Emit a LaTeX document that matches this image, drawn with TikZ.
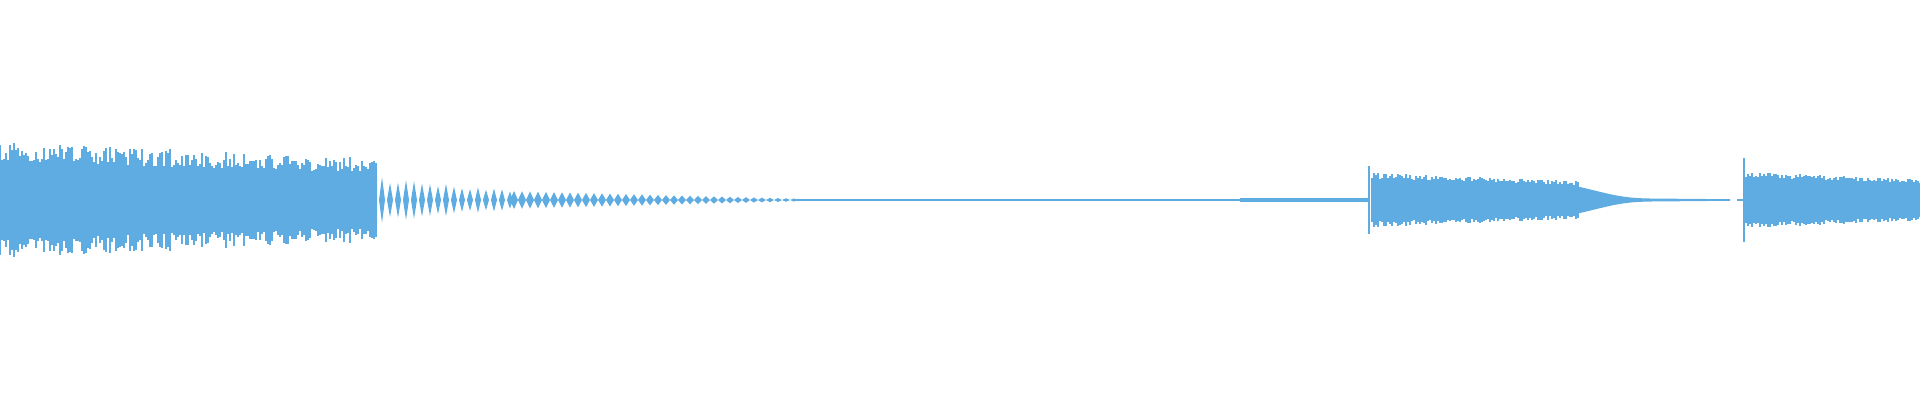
\documentclass[tikz,border=0pt]{standalone}
\definecolor{wave}{RGB}{94,172,226}
\begin{document}
\begin{tikzpicture}[
        waveline/.style={wave, line width=0.35pt},
        wavefill/.style={fill=wave, draw=none},
        ]
    \pgfmathsetseed{7}
    \useasboundingbox (0,0) rectangle (19.2,4);

    % loud opening
    \fill[wavefill] (0,2.3) -- (3.77,2.22) -- (3.77,1.78) -- (0,1.7) -- cycle;
    \foreach \x in {0,0.02,...,3.77} {
        \pgfmathsetmacro\ra{(0.58-0.16*\x/3.77)*(0.65+0.35*rnd)}
        \draw[waveline] (\x,2-\ra) -- (\x,2+\ra);
    }

    % separated bursts
    \foreach \x in {3.82,3.9,...,5.14} {
        \pgfmathsetmacro\ra{(0.23-0.13*(\x-3.82)/1.32)*(0.75+0.25*rnd)}
        \fill[wavefill] (\x-0.03,2) -- (\x,2+\ra) -- (\x+0.03,2) -- (\x,2-\ra) -- cycle;
    }

    % fading diamonds
    \foreach \x in {5.14,5.22,...,7.96} {
        \pgfmathsetmacro\ra{0.09-0.075*(\x-5.14)/2.82}
        \fill[wavefill] (\x-0.04,2) -- (\x,2+\ra) -- (\x+0.04,2) -- (\x,2-\ra) -- cycle;
    }

    % quiet stretch
    \draw[waveline] (7.96,2) -- (13.69,2);
    \draw[wave, line width=1pt] (12.4,2) -- (13.69,2);

    % second note
    \draw[waveline] (13.69,1.66) -- (13.69,2.34);
    \fill[wavefill] (13.71,2.2) -- (15.8,2.13) .. controls (16.1,2.06) and (16.2,2.02) .. (16.5,2.015)
        -- (17.3,2.008) -- (17.3,1.992) -- (16.5,1.985)
        .. controls (16.2,1.98) and (16.1,1.94) .. (15.8,1.87) -- (13.71,1.8) -- cycle;
    \foreach \x in {13.72,13.74,...,15.8} {
        \pgfmathsetmacro\ra{(0.27-0.08*(\x-13.72)/2.08)*(0.8+0.2*rnd)}
        \draw[waveline] (\x,2-\ra) -- (\x,2+\ra);
    }

    % third note
    \draw[waveline] (17.37,2) -- (17.44,2);
    \draw[waveline] (17.44,1.58) -- (17.44,2.42);
    \fill[wavefill] (17.45,2.2) -- (19.2,2.14) -- (19.2,1.86) -- (17.45,1.8) -- cycle;
    \foreach \x in {17.46,17.48,...,19.2} {
        \pgfmathsetmacro\ra{(0.28-0.07*(\x-17.46)/1.74)*(0.8+0.2*rnd)}
        \draw[waveline] (\x,2-\ra) -- (\x,2+\ra);
    }
\end{tikzpicture}
\end{document}
